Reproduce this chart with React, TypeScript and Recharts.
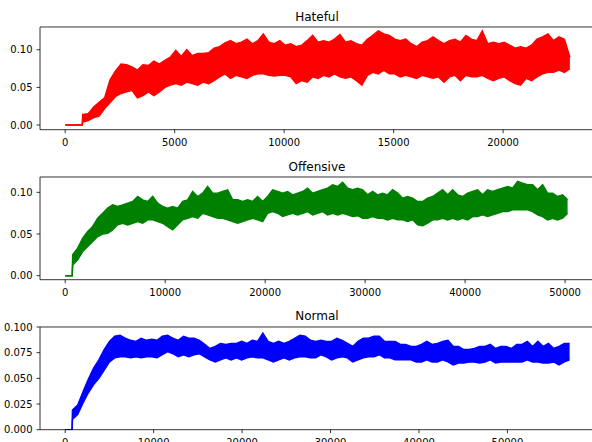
import { ComposedChart, Area, XAxis, YAxis, ReferenceLine } from 'recharts'

// sample ranges (min / max of the noisy series around each sample)
const HATEFUL_FLAT_END = 776
const HATEFUL_START = 800
const HATEFUL_STEP = 250
const HATEFUL_LOW = [
  0.004, 0.006, 0.010, 0.012, 0.022, 0.030, 0.038, 0.042, 0.044, 0.046,
  0.036, 0.039, 0.044, 0.039, 0.044, 0.050, 0.053, 0.055, 0.053, 0.057,
  0.055, 0.053, 0.057, 0.055, 0.059, 0.064, 0.068, 0.062, 0.066, 0.064,
  0.062, 0.066, 0.068, 0.068, 0.066, 0.065, 0.066, 0.066, 0.064, 0.055,
  0.059, 0.057, 0.064, 0.062, 0.066, 0.064, 0.068, 0.064, 0.062, 0.064,
  0.059, 0.053, 0.066, 0.070, 0.068, 0.073, 0.068, 0.068, 0.064, 0.066,
  0.064, 0.062, 0.066, 0.064, 0.062, 0.064, 0.057, 0.064, 0.066, 0.059,
  0.066, 0.064, 0.064, 0.066, 0.062, 0.059, 0.062, 0.064, 0.059, 0.055,
  0.053, 0.062, 0.059, 0.064, 0.068, 0.070, 0.070, 0.073, 0.070, 0.075,
]
const HATEFUL_HIGH = [
  0.014, 0.015, 0.024, 0.030, 0.036, 0.060, 0.072, 0.081, 0.080, 0.077,
  0.073, 0.080, 0.079, 0.085, 0.081, 0.086, 0.090, 0.099, 0.091, 0.100,
  0.092, 0.095, 0.095, 0.096, 0.102, 0.104, 0.109, 0.112, 0.108, 0.110,
  0.114, 0.108, 0.112, 0.121, 0.110, 0.108, 0.112, 0.106, 0.108, 0.104,
  0.106, 0.112, 0.119, 0.110, 0.112, 0.110, 0.114, 0.120, 0.110, 0.112,
  0.108, 0.106, 0.114, 0.119, 0.125, 0.121, 0.119, 0.114, 0.112, 0.114,
  0.108, 0.104, 0.110, 0.112, 0.117, 0.112, 0.108, 0.112, 0.114, 0.110,
  0.119, 0.114, 0.112, 0.125, 0.108, 0.110, 0.108, 0.110, 0.106, 0.102,
  0.104, 0.102, 0.106, 0.114, 0.117, 0.121, 0.112, 0.117, 0.114, 0.090,
]

const OFFENSIVE_FLAT_END = 700
const OFFENSIVE_START = 750
const OFFENSIVE_STEP = 500
const OFFENSIVE_LOW = [
  0.013, 0.019, 0.029, 0.035, 0.041, 0.047, 0.050, 0.051, 0.055, 0.061,
  0.063, 0.061, 0.063, 0.065, 0.063, 0.067, 0.067, 0.065, 0.063, 0.059,
  0.055, 0.061, 0.067, 0.069, 0.071, 0.069, 0.075, 0.073, 0.071, 0.069,
  0.069, 0.067, 0.065, 0.063, 0.065, 0.067, 0.069, 0.067, 0.065, 0.075,
  0.077, 0.075, 0.071, 0.073, 0.075, 0.073, 0.075, 0.077, 0.073, 0.075,
  0.077, 0.073, 0.075, 0.073, 0.075, 0.073, 0.071, 0.072, 0.069, 0.069,
  0.071, 0.069, 0.069, 0.067, 0.069, 0.067, 0.067, 0.065, 0.067, 0.061,
  0.060, 0.063, 0.067, 0.067, 0.069, 0.067, 0.069, 0.067, 0.069, 0.067,
  0.071, 0.071, 0.073, 0.071, 0.073, 0.075, 0.077, 0.077, 0.079, 0.079,
  0.079, 0.079, 0.077, 0.073, 0.071, 0.067, 0.069, 0.067, 0.069, 0.075,
]
const OFFENSIVE_HIGH = [
  0.025, 0.033, 0.045, 0.053, 0.059, 0.069, 0.075, 0.081, 0.085, 0.083,
  0.085, 0.087, 0.089, 0.095, 0.091, 0.089, 0.095, 0.087, 0.083, 0.081,
  0.083, 0.081, 0.089, 0.091, 0.101, 0.095, 0.099, 0.107, 0.099, 0.099,
  0.101, 0.103, 0.091, 0.091, 0.089, 0.091, 0.089, 0.095, 0.089, 0.095,
  0.103, 0.101, 0.099, 0.101, 0.097, 0.099, 0.101, 0.105, 0.099, 0.101,
  0.103, 0.105, 0.109, 0.107, 0.112, 0.105, 0.103, 0.105, 0.103, 0.097,
  0.101, 0.097, 0.099, 0.097, 0.103, 0.099, 0.093, 0.095, 0.093, 0.089,
  0.089, 0.093, 0.095, 0.099, 0.103, 0.097, 0.103, 0.097, 0.095, 0.099,
  0.101, 0.103, 0.097, 0.103, 0.101, 0.103, 0.105, 0.107, 0.105, 0.113,
  0.111, 0.109, 0.109, 0.103, 0.109, 0.099, 0.099, 0.095, 0.097, 0.091,
]

const NORMAL_FLAT_END = 780
const NORMAL_START = 820
const NORMAL_STEP = 598
const NORMAL_LOW = [
  0.010, 0.015, 0.026, 0.036, 0.044, 0.050, 0.058, 0.066, 0.070, 0.071,
  0.071, 0.070, 0.071, 0.070, 0.071, 0.071, 0.070, 0.073, 0.076, 0.074,
  0.071, 0.073, 0.071, 0.073, 0.074, 0.071, 0.068, 0.066, 0.068, 0.070,
  0.068, 0.070, 0.068, 0.070, 0.071, 0.070, 0.070, 0.068, 0.066, 0.068,
  0.070, 0.068, 0.070, 0.071, 0.071, 0.070, 0.070, 0.073, 0.071, 0.068,
  0.070, 0.071, 0.070, 0.066, 0.068, 0.070, 0.071, 0.071, 0.073, 0.070,
  0.070, 0.068, 0.068, 0.068, 0.068, 0.066, 0.066, 0.068, 0.066, 0.066,
  0.068, 0.066, 0.063, 0.065, 0.065, 0.066, 0.066, 0.065, 0.066, 0.068,
  0.065, 0.066, 0.066, 0.066, 0.066, 0.066, 0.068, 0.066, 0.066, 0.065,
  0.065, 0.066, 0.063, 0.066, 0.068,
]
const NORMAL_HIGH = [
  0.019, 0.024, 0.037, 0.049, 0.060, 0.068, 0.078, 0.086, 0.091, 0.092,
  0.089, 0.087, 0.086, 0.089, 0.087, 0.088, 0.087, 0.091, 0.092, 0.089,
  0.087, 0.091, 0.089, 0.089, 0.087, 0.083, 0.079, 0.081, 0.084, 0.083,
  0.084, 0.084, 0.086, 0.084, 0.087, 0.086, 0.094, 0.086, 0.084, 0.086,
  0.084, 0.086, 0.089, 0.092, 0.091, 0.087, 0.086, 0.087, 0.086, 0.086,
  0.089, 0.087, 0.084, 0.081, 0.086, 0.089, 0.089, 0.091, 0.091, 0.086,
  0.086, 0.086, 0.083, 0.083, 0.081, 0.081, 0.083, 0.086, 0.083, 0.084,
  0.086, 0.087, 0.081, 0.081, 0.078, 0.078, 0.079, 0.081, 0.081, 0.083,
  0.079, 0.081, 0.081, 0.079, 0.083, 0.083, 0.086, 0.081, 0.086, 0.081,
  0.084, 0.079, 0.081, 0.084, 0.084,
]

const HATEFUL_X_TICKS = [0, 5000, 10000, 15000, 20000]
const OFFENSIVE_X_TICKS = [0, 10000, 20000, 30000, 40000, 50000]
const NORMAL_X_TICKS = [0, 10000, 20000, 30000, 40000, 50000]
const SMALL_Y_TICKS = [0, 0.05, 0.1]
const NORMAL_Y_TICKS = [0, 0.025, 0.05, 0.075, 0.1]

const FONT = 'DejaVu Sans'
const PLOT_H = 102.7
const PAD_TOP = 10
const X_AXIS_H = 24

type Row = { x: number; range: [number, number] }

function buildRows(flatEnd: number, start: number, step: number, low: number[], high: number[]): Row[] {
  const rows: Row[] = [
    { x: 0, range: [0, 0] },
    { x: flatEnd, range: [0, 0] },
  ]
  low.forEach((v, i) => rows.push({ x: start + i * step, range: [v, high[i]] }))
  return rows
}

interface PanelProps {
  top: number
  title: string
  color: string
  data: Row[]
  xDomain: [number, number]
  xTicks: number[]
  yDomain: [number, number]
  yTicks: number[]
  yDigits: number
}

function Panel({ top, title, color, data, xDomain, xTicks, yDomain, yTicks, yDigits }: PanelProps) {
  const tick = { fill: '#000', fontSize: 10, fontFamily: FONT }
  const axisLine = { stroke: '#000', strokeWidth: 0.8 }
  return (
    <div style={{ position: 'absolute', left: 0, top: top - PAD_TOP }}>
      <div
        style={{
          position: 'absolute', left: 40, width: 554, top: PAD_TOP - 16.2,
          textAlign: 'center', fontSize: 12, lineHeight: '12px', fontFamily: FONT, color: '#000',
        }}
      >
        {title}
      </div>
      <ComposedChart
        width={594}
        height={PAD_TOP + PLOT_H + X_AXIS_H}
        data={data}
        margin={{ top: PAD_TOP, right: 0, bottom: 0, left: 0 }}
      >
        <XAxis
          dataKey="x" type="number" domain={xDomain} ticks={xTicks} allowDataOverflow
          height={X_AXIS_H} tickSize={3.5} tickMargin={6} tick={tick}
          axisLine={axisLine} tickLine={axisLine}
        />
        <YAxis
          type="number" domain={yDomain} ticks={yTicks} allowDataOverflow
          width={40} tickSize={3.5} tickMargin={4} tick={tick}
          axisLine={axisLine} tickLine={axisLine}
          tickFormatter={(v: number) => v.toFixed(yDigits)}
        />
        <Area
          type="linear" dataKey="range" stroke={color} strokeWidth={1.5}
          fill={color} fillOpacity={1} dot={false} activeDot={false}
          isAnimationActive={false}
        />
        {/* top spine */}
        <ReferenceLine y={yDomain[1]} stroke="#000" strokeWidth={0.8} ifOverflow="visible" />
      </ComposedChart>
    </div>
  )
}

export default function App() {
  const hateful = buildRows(HATEFUL_FLAT_END, HATEFUL_START, HATEFUL_STEP, HATEFUL_LOW, HATEFUL_HIGH)
  const offensive = buildRows(OFFENSIVE_FLAT_END, OFFENSIVE_START, OFFENSIVE_STEP, OFFENSIVE_LOW, OFFENSIVE_HIGH)
  const normal = buildRows(NORMAL_FLAT_END, NORMAL_START, NORMAL_STEP, NORMAL_LOW, NORMAL_HIGH)

  return (
    <div
      style={{
        position: 'fixed', left: 0, top: 0, width: 592, height: 442,
        overflow: 'hidden', background: '#fff', fontFamily: FONT,
      }}
    >
      <Panel
        top={26.7} title="Hateful" color="#ff0000" data={hateful}
        xDomain={[-1150, 24150]} xTicks={HATEFUL_X_TICKS}
        yDomain={[-0.0062, 0.1302]} yTicks={SMALL_Y_TICKS} yDigits={2}
      />
      <Panel
        top={176.7} title="Offensive" color="#008000" data={offensive}
        xDomain={[-2518, 52888]} xTicks={OFFENSIVE_X_TICKS}
        yDomain={[-0.0048, 0.1184]} yTicks={SMALL_Y_TICKS} yDigits={2}
      />
      <Panel
        top={326.5} title="Normal" color="#0000ff" data={normal}
        xDomain={[-2847, 59787]} xTicks={NORMAL_X_TICKS}
        yDomain={[0, 0.1]} yTicks={NORMAL_Y_TICKS} yDigits={3}
      />
    </div>
  )
}
